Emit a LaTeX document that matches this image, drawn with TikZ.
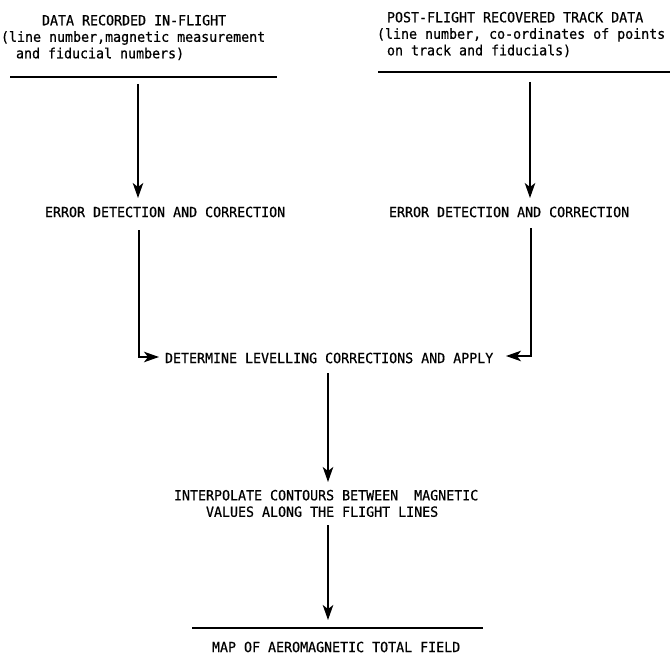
\documentclass[tikz,border=0pt]{standalone}
\usepackage{fontspec}
\setmonofont[FakeStretch=0.95,FakeBold=0.6]{DejaVu Sans Mono}
\usetikzlibrary{arrows.meta}
\begin{document}
\begin{tikzpicture}[x=1bp,y=-1bp,
  lbl/.style={font=\ttfamily\fontsize{14bp}{16.5bp}\selectfont, inner sep=0, outer sep=0},
  blk/.style={lbl, align=left, anchor=north west},
  one/.style={lbl, anchor=west},
  rule/.style={line width=1.6bp},
  wire/.style={line width=1.4bp},
  flow/.style={wire, -{Stealth[length=15bp,width=10.5bp,inset=4bp]}}]
\useasboundingbox (0,0) rectangle (670,656);

% input data blocks
\node[blk] (recL) at (1,14.9)
  {\hspace*{41bp}DATA RECORDED IN-FLIGHT\\
   (line number,magnetic measurement\\
   \hspace*{15bp}and fiducial numbers)};
\node[blk] (recR) at (377,11.9)
  {\hspace*{10bp}POST-FLIGHT RECOVERED TRACK DATA\\
   (line number, co-ordinates of points\\
   \hspace*{10bp}on track and fiducials)};

% rules under the data blocks
\draw[rule] (10,77) coordinate (ruleLa) -- (277,77) coordinate (ruleLb);
\draw[rule] (378,72) coordinate (ruleRa) -- (670,72) coordinate (ruleRb);

% processing steps
\node[one] (errL) at (45,212) {ERROR DETECTION AND CORRECTION};
\node[one] (errR) at (389,212) {ERROR DETECTION AND CORRECTION};
\node[one] (lev) at (165,358) {DETERMINE LEVELLING CORRECTIONS AND APPLY};
\node[blk] (interp) at (174,489.9)
  {INTERPOLATE CONTOURS BETWEEN\ \ MAGNETIC\\
   \hspace*{32bp}VALUES ALONG THE FLIGHT LINES};
\draw[rule] (192,628) coordinate (ruleMa) -- (483,628) coordinate (ruleMb);
\node[one] (map) at (212,647) {MAP OF AEROMAGNETIC TOTAL FIELD};

% connector end points
\coordinate (inL) at (138,84);
\coordinate (toErrL) at (138,198);
\coordinate (inR) at (530,82);
\coordinate (toErrR) at (530,198);
\coordinate (outL) at (139,230);
\coordinate (cornL) at (139,357);
\coordinate (toLevL) at (159,357);
\coordinate (outR) at (531,228);
\coordinate (cornR) at (531,356);
\coordinate (toLevR) at (506,356);
\coordinate (outLev) at (328,373);
\coordinate (toInterp) at (328,482);
\coordinate (outInterp) at (328,525);
\coordinate (toMap) at (328,620);

% connectors
\draw[flow] (inL) -- (toErrL);
\draw[flow] (inR) -- (toErrR);
\draw[flow] (outL) -- (cornL) -- (toLevL);
\draw[flow] (outR) -- (cornR) -- (toLevR);
\draw[flow] (outLev) -- (toInterp);
\draw[flow] (outInterp) -- (toMap);
\end{tikzpicture}
\end{document}
